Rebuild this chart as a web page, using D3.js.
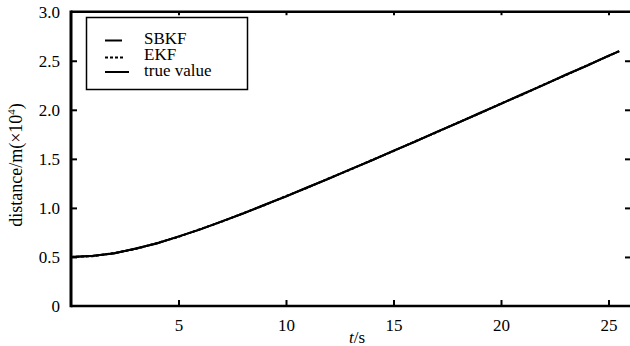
<!DOCTYPE html>
<html>
<head>
<meta charset="utf-8">
<script src="https://cdn.jsdelivr.net/npm/d3@7"></script>
<style>
  body { margin: 0; background: #fff; }
</style>
</head>
<body>
<div id="chart"></div>
<script>
// time axis (s) and distance (x10^4 m)
var times = [0, 1, 2, 3, 4, 5, 6, 7, 8, 9, 10, 11, 12, 13, 14, 15, 16, 17, 18, 19, 20, 21, 22, 23, 24, 25, 25.5];
var trueValue = [0.500, 0.510, 0.538, 0.583, 0.640, 0.707, 0.781, 0.860, 0.943, 1.030, 1.118, 1.208, 1.300, 1.393, 1.486, 1.581, 1.676, 1.772, 1.868, 1.964, 2.062, 2.158, 2.256, 2.354, 2.451, 2.550, 2.598];
var sbkf = [0.500, 0.512, 0.536, 0.586, 0.638, 0.710, 0.779, 0.863, 0.941, 1.033, 1.116, 1.211, 1.298, 1.396, 1.484, 1.584, 1.674, 1.775, 1.866, 1.967, 2.060, 2.161, 2.254, 2.357, 2.449, 2.553, 2.596];
var ekf = [0.500, 0.508, 0.540, 0.580, 0.643, 0.704, 0.784, 0.857, 0.946, 1.027, 1.121, 1.205, 1.303, 1.390, 1.489, 1.578, 1.679, 1.769, 1.871, 1.961, 2.065, 2.155, 2.259, 2.351, 2.454, 2.547, 2.600];

var xTicks = [5, 10, 15, 20, 25];
var yTicks = [0, 0.5, 1.0, 1.5, 2.0, 2.5, 3.0];
var yTickLabels = ["0", "0.5", "1.0", "1.5", "2.0", "2.5", "3.0"];
var legendItems = ["SBKF", "EKF", "true value"];

(function() {
  var width = 630;
  var height = 346;
  var left = 71, right = 630, top = 11.7, bottom = 306;
  var serif = "'Liberation Serif'";

  var svg = d3.select("#chart")
    .append("svg")
    .attr("width", width)
    .attr("height", height)
    .style("display", "block");

  var x = d3.scaleLinear().domain([0, 26]).range([left, right]);
  var y = d3.scaleLinear().domain([0, 3]).range([bottom, top]);

  // series, all drawn on top of each other
  var series = [
    { name: "true value", values: trueValue, dash: null },
    { name: "SBKF", values: sbkf, dash: null },
    { name: "EKF", values: ekf, dash: "3,2" }
  ];

  var line = d3.line()
    .x(function(d) { return x(d.t); })
    .y(function(d) { return y(d.v); });

  svg.selectAll(".series")
    .data(series)
    .enter().append("path")
    .attr("class", "series")
    .attr("fill", "none")
    .attr("stroke", "#000")
    .attr("stroke-width", 2)
    .attr("stroke-dasharray", function(d) { return d.dash; })
    .attr("d", function(d) {
      return line(times.map(function(t, i) { return { t: t, v: d.values[i] }; }));
    });

  // frame lines
  svg.append("line")
    .attr("x1", left).attr("x2", left)
    .attr("y1", top - 1.2).attr("y2", bottom + 1.2)
    .attr("stroke", "#000").attr("stroke-width", 3);
  svg.append("line")
    .attr("x1", left).attr("x2", right)
    .attr("y1", bottom).attr("y2", bottom)
    .attr("stroke", "#000").attr("stroke-width", 2.5);
  svg.append("line")
    .attr("x1", left).attr("x2", right)
    .attr("y1", top).attr("y2", top)
    .attr("stroke", "#000").attr("stroke-width", 2.5);

  // bottom axis: inward ticks + labels
  var xAxis = d3.axisBottom(x)
    .tickValues(xTicks)
    .tickSizeInner(-6)
    .tickSizeOuter(0)
    .tickPadding(10);
  var gx = svg.append("g")
    .attr("transform", "translate(0," + bottom + ")")
    .call(xAxis);
  gx.select(".domain").remove();
  gx.selectAll(".tick line").attr("stroke", "#000").attr("stroke-width", 2);
  gx.selectAll(".tick text")
    .style("font-family", serif)
    .style("font-size", "17px")
    .attr("fill", "#000")
    .attr("dy", "0.9em");

  // top ticks (short, no labels)
  var xTop = d3.axisTop(x)
    .tickValues(xTicks)
    .tickSizeInner(-3.5)
    .tickSizeOuter(0)
    .tickFormat("");
  var gt = svg.append("g")
    .attr("transform", "translate(0," + top + ")")
    .call(xTop);
  gt.select(".domain").remove();
  gt.selectAll(".tick line").attr("stroke", "#000").attr("stroke-width", 2);

  // left axis
  var yAxis = d3.axisLeft(y)
    .tickValues(yTicks)
    .tickSizeInner(-6)
    .tickSizeOuter(0)
    .tickPadding(11)
    .tickFormat(function(d, i) { return yTickLabels[i]; });
  var gy = svg.append("g")
    .attr("transform", "translate(" + left + ",0)")
    .call(yAxis);
  gy.select(".domain").remove();
  gy.selectAll(".tick line")
    .attr("stroke", "#000").attr("stroke-width", 2)
    .attr("display", function(d) { return (d === 0 || d === 3) ? "none" : null; });
  gy.selectAll(".tick text")
    .style("font-family", serif)
    .style("font-size", "17px")
    .attr("fill", "#000");

  // right ticks only (frame edge is at the page border)
  var yRight = d3.axisRight(y)
    .tickValues(yTicks.slice(1, 6))
    .tickSizeInner(-5)
    .tickSizeOuter(0)
    .tickFormat("");
  var gr = svg.append("g")
    .attr("transform", "translate(" + right + ",0)")
    .call(yRight);
  gr.select(".domain").remove();
  gr.selectAll(".tick line").attr("stroke", "#000").attr("stroke-width", 2);

  // axis titles
  var yl = svg.append("text")
    .attr("transform", "translate(22,165) rotate(-90)")
    .attr("text-anchor", "middle")
    .style("font-family", serif)
    .style("font-size", "18px")
    .attr("fill", "#000");
  yl.append("tspan").text("distance/m(\u00d710");
  yl.append("tspan").style("font-size", "11px").attr("dy", -7).text("4");
  yl.append("tspan").attr("dy", 7).text(")");

  var xl = svg.append("text")
    .attr("x", 357)
    .attr("y", 343)
    .attr("text-anchor", "middle")
    .style("font-family", serif)
    .style("font-size", "17px")
    .attr("fill", "#000");
  xl.append("tspan").style("font-style", "italic").text("t");
  xl.append("tspan").text("/s");

  // legend
  var legend = svg.append("g").attr("class", "legend");
  legend.append("rect")
    .attr("x", 86.5).attr("y", 17.5)
    .attr("width", 161).attr("height", 72)
    .attr("fill", "#fff")
    .attr("stroke", "#000")
    .attr("stroke-width", 1.5);

  var legendLines = [
    { x2: 122, y: 40.5, dash: null },
    { x2: 125, y: 57.5, dash: "3,2" },
    { x2: 129, y: 72, dash: null }
  ];
  var legendBaselines = [43.5, 59.5, 76];

  legend.selectAll(".legend-line")
    .data(legendItems)
    .enter().append("line")
    .attr("class", "legend-line")
    .attr("x1", 105)
    .attr("x2", function(d, i) { return legendLines[i].x2; })
    .attr("y1", function(d, i) { return legendLines[i].y; })
    .attr("y2", function(d, i) { return legendLines[i].y; })
    .attr("stroke", "#000")
    .attr("stroke-width", 2)
    .attr("stroke-dasharray", function(d, i) { return legendLines[i].dash; });

  legend.selectAll(".legend-label")
    .data(legendItems)
    .enter().append("text")
    .attr("class", "legend-label")
    .attr("x", 144)
    .attr("y", function(d, i) { return legendBaselines[i]; })
    .style("font-family", serif)
    .style("font-size", "17px")
    .attr("fill", "#000")
    .text(function(d) { return d; });
})();
</script>
</body>
</html>
